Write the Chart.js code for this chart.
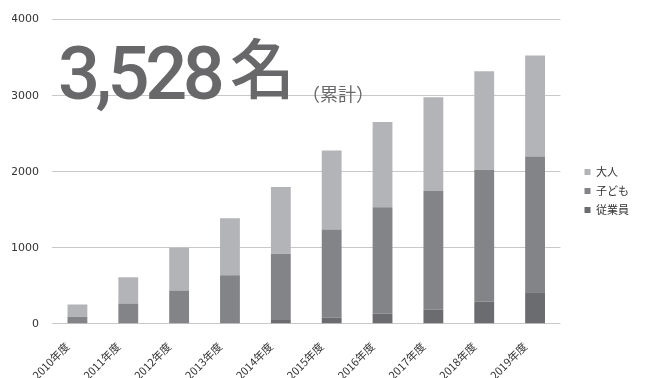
<!DOCTYPE html>
<html lang="ja">
<head>
<meta charset="utf-8">
<script src="https://cdn.jsdelivr.net/npm/chart.js@4"></script>
<style>
    html, body { margin: 0; padding: 0; background: #fff; }
    #wrap { position: relative; width: 647px; height: 378px; }
    .big { position: absolute; line-height: 1; color: #68686b; white-space: nowrap; }
    #num { left: 58px; top: 37px; font-family: Roboto, sans-serif; font-weight: 500; font-size: 74px; letter-spacing: -4.5px; }
    #mei { left: 230px; top: 33px; font-family: "Noto Sans CJK JP", sans-serif; font-weight: 500; font-size: 65px; }
    #ruikei { left: 302px; top: 84px; font-family: "Noto Sans CJK JP", sans-serif; font-size: 18px; }
</style>
</head>
<body>
<div id="wrap">
    <canvas id="chart" width="647" height="378"></canvas>
    <div class="big" id="num">3,528</div>
    <div class="big" id="mei">名</div>
    <div class="big" id="ruikei">（累計）</div>
</div>
<script>
// 年度ごとのデータ（積み上げ）
const years = ['2010年度', '2011年度', '2012年度', '2013年度', '2014年度',
               '2015年度', '2016年度', '2017年度', '2018年度', '2019年度'];
const jugyoin = [0, 0, 0, 0, 50, 80, 135, 185, 295, 415];
const kodomo = [93, 267, 440, 640, 870, 1160, 1398, 1562, 1732, 1785];
const otona = [160, 346, 560, 747, 880, 1040, 1120, 1233, 1293, 1328];
const yTicks = [0, 1000, 2000, 3000, 4000];

const jpFont = '"Noto Sans CJK JP", sans-serif';
const LEGEND_GAP = 16;
const LEGEND_RAISE = 7;

function makeDataset(label, data, color) {
    return {
        label: label,
        data: data,
        backgroundColor: color,
        borderWidth: 0,
        barPercentage: 0.39,
        categoryPercentage: 1
    };
}

// 凡例をグラフから少し離す（幅を広げて左端をずらす）、少し上へ
const legendGap = {
    id: 'legendGap',
    beforeLayout(chart) {
        const lg = chart.legend;
        if (lg && !lg._gapWrapped) {
            const fit = lg.fit;
            lg.fit = function () {
                fit.call(this);
                this.width += LEGEND_GAP;
            };
            lg._gapWrapped = true;
        }
    },
    afterLayout(chart) {
        const lg = chart.legend;
        if (!lg) return;
        lg.left += LEGEND_GAP;
        lg.top -= LEGEND_RAISE;
        lg.bottom -= LEGEND_RAISE;
    }
};

const ctx = document.getElementById('chart').getContext('2d');
new Chart(ctx, {
    type: 'bar',
    data: {
        labels: years,
        datasets: [
            makeDataset('従業員', jugyoin, '#6b6c6f'),
            makeDataset('子ども', kodomo, '#838487'),
            makeDataset('大人', otona, '#b3b4b7')
        ]
    },
    plugins: [legendGap],
    options: {
        responsive: false,
        animation: false,
        layout: { padding: { top: 6, right: 8, bottom: -12, left: 12 } },
        plugins: {
            tooltip: { enabled: false },
            legend: {
                position: 'right',
                reverse: true,
                labels: {
                    boxWidth: 6,
                    boxHeight: 6,
                    padding: 8,
                    color: '#333',
                    font: { family: jpFont, size: 11 }
                }
            }
        },
        scales: {
            x: {
                stacked: true,
                grid: { display: false },
                border: { display: false },
                afterFit: scale => { scale.paddingLeft = 0; scale.paddingRight = 0; },
                ticks: {
                    color: '#333',
                    maxRotation: 45,
                    minRotation: 45,
                    padding: 8,
                    labelOffset: -10,
                    font: { family: jpFont, size: 11 }
                }
            },
            y: {
                stacked: true,
                min: 0,
                max: 4000,
                afterBuildTicks: axis => { axis.ticks = yTicks.map(v => ({ value: v })); },
                afterFit: scale => { scale.width = 40; },
                grid: { color: '#c8c8c8', lineWidth: 1, drawTicks: false },
                border: { display: false },
                ticks: {
                    color: '#333',
                    padding: 13,
                    callback: v => String(v),
                    font: { family: '"DejaVu Sans", sans-serif', size: 11 }
                }
            }
        }
    }
});
</script>
</body>
</html>
